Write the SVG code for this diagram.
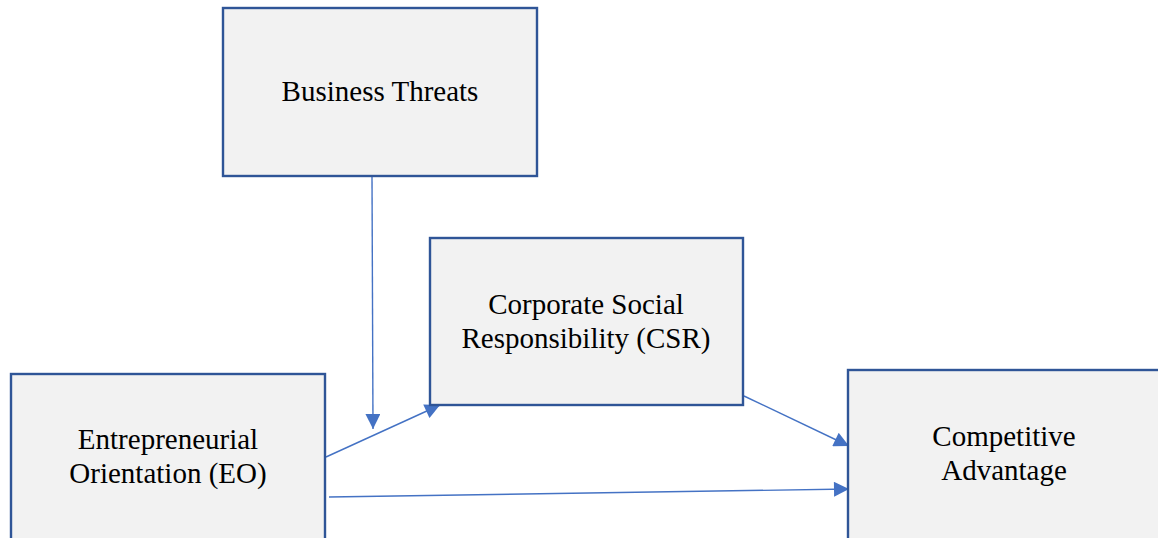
<svg xmlns="http://www.w3.org/2000/svg" width="1158" height="538" viewBox="0 0 1158 538">
  <style>
    .box { fill: #f2f2f2; stroke: #2f5597; stroke-width: 2.4; }
    .lbl { font-family: "Liberation Serif", "Times New Roman", serif; font-size: 29px; fill: #000; text-anchor: middle; }
    .link { stroke: #4472c4; stroke-width: 1.4; fill: none; marker-end: url(#tip); }
  </style>
  <defs>
    <!-- filled triangular arrowhead shared by all connectors -->
    <marker id="tip" viewBox="0 0 10 10" refX="10" refY="5" markerWidth="17" markerHeight="15" markerUnits="userSpaceOnUse" orient="auto">
      <path d="M0,0 L10,5 L0,10 Z" fill="#4472c4"/>
    </marker>
  </defs>

  <g id="connectors">
    <line class="link" x1="372" y1="177" x2="373" y2="429"/>
    <line class="link" x1="326" y1="457" x2="440" y2="405"/>
    <line class="link" x1="744" y1="396" x2="849" y2="446"/>
    <line class="link" x1="329" y1="497" x2="849" y2="489"/>
  </g>

  <g id="business-threats">
    <rect class="box" x="223" y="8" width="314" height="168"/>
    <text class="lbl" x="380" y="101">Business Threats</text>
  </g>

  <g id="csr">
    <rect class="box" x="430" y="238" width="313" height="167"/>
    <text class="lbl" x="586" y="314">Corporate Social</text>
    <text class="lbl" x="586" y="348">Responsibility (CSR)</text>
  </g>

  <g id="entrepreneurial-orientation">
    <rect class="box" x="11" y="374" width="314" height="170"/>
    <text class="lbl" x="168" y="449">Entrepreneurial</text>
    <text class="lbl" x="168" y="483">Orientation (EO)</text>
  </g>

  <g id="competitive-advantage">
    <rect class="box" x="848" y="370" width="314" height="174"/>
    <text class="lbl" x="1004" y="446">Competitive</text>
    <text class="lbl" x="1004" y="480">Advantage</text>
  </g>
</svg>
